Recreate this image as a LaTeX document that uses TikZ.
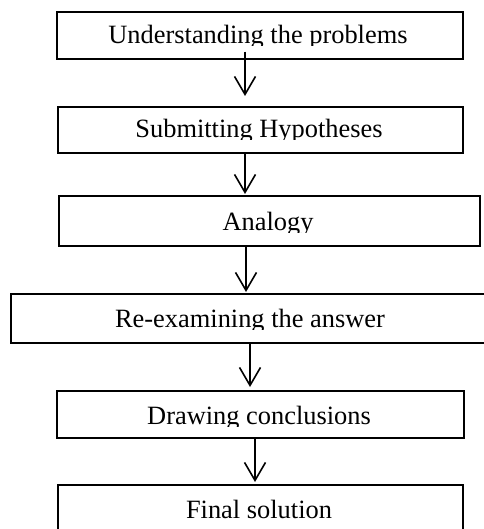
\documentclass[tikz,border=0pt]{standalone}
\usepackage{fontspec}
\setmainfont{Liberation Serif}
\usetikzlibrary{arrows.meta,calc}
\begin{document}
\begin{tikzpicture}[x=1pt,y=-1pt,
  box/.style={draw, line width=1.6pt, anchor=north west, inner sep=0pt},
  lbl/.style={anchor=base, inner sep=0pt, font=\fontsize{26.4}{30}\selectfont},
  arr/.style={-{Straight Barb[length=18pt,width=21pt]}, line width=1.6pt}]
\useasboundingbox (0,0) rectangle (483,529);
% boxes
\node[box, minimum width=406pt, minimum height=47pt] (b1) at (56,11) {};
\node[box, minimum width=405pt, minimum height=46pt] (b2) at (57,106) {};
\node[box, minimum width=421pt, minimum height=50pt] (b3) at (58,195) {};
\node[box, minimum width=476pt, minimum height=49pt] (b4) at (10,293) {};
\node[box, minimum width=407pt, minimum height=47pt] (b5) at (56,390) {};
\node[box, minimum width=405pt, minimum height=60pt] (b6) at (57,484) {};
% labels (clipped like the original text frames)
\begin{scope}
  \clip (b1.north west) rectangle ($(b1.north east)+(0,35)$);
  \node[lbl] (t1) at (258,44) {Understanding the problems};
\end{scope}
\begin{scope}
  \clip (b2.north west) rectangle ($(b2.north east)+(0,34)$);
  \node[lbl] (t2) at (259,138) {Submitting Hypotheses};
\end{scope}
\begin{scope}
  \clip (b3.north west) rectangle ($(b3.north east)+(0,37)$);
  \node[lbl] (t3) at (268,230) {Analogy};
\end{scope}
\begin{scope}
  \clip (b4.north west) rectangle ($(b4.north east)+(0,36)$);
  \node[lbl] (t4) at (250,327) {Re-examining the answer};
\end{scope}
\begin{scope}
  \clip (b5.north west) rectangle ($(b5.north east)+(0,36)$);
  \node[lbl] (t5) at (259,424) {Drawing conclusions};
\end{scope}
\node[lbl] (t6) at (259,518) {Final solution};
% arrows
\draw[arr] ($(b1.south west)+(189,-8)$) -- ($(b2.north west)+(188,-10)$);
\draw[arr] ($(b2.south west)+(188,0)$) -- ($(b3.north west)+(187,-1)$);
\draw[arr] ($(b3.south west)+(188,0)$) -- ($(b4.north west)+(236,-1)$);
\draw[arr] ($(b4.south west)+(240,0)$) -- ($(b5.north west)+(194,-3)$);
\draw[arr] ($(b5.south west)+(199,0)$) -- ($(b6.north west)+(198,-2)$);
\end{tikzpicture}
\end{document}
